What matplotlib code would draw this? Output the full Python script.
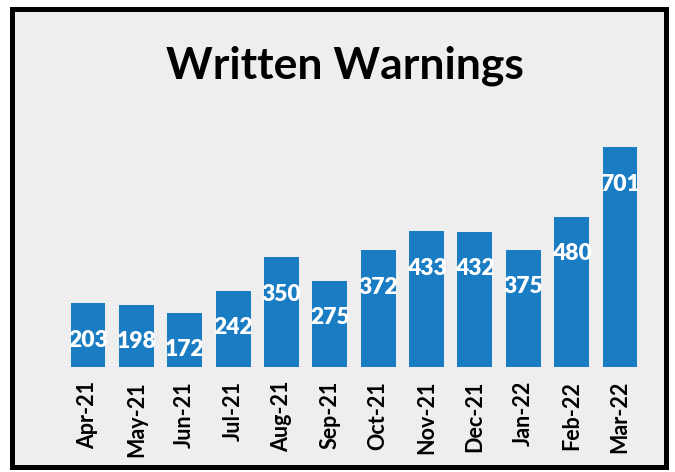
import matplotlib.pyplot as plt
from matplotlib.patches import Rectangle

months = ["Apr-21", "May-21", "Jun-21", "Jul-21", "Aug-21", "Sep-21",
          "Oct-21", "Nov-21", "Dec-21", "Jan-22", "Feb-22", "Mar-22"]
warnings = [203, 198, 172, 242, 350, 275, 372, 433, 432, 375, 480, 701]

plt.rcParams["font.family"] = ["Lato", "DejaVu Sans"]

fig = plt.figure(figsize=(6.75, 4.72), dpi=100)
fig.patch.set_facecolor("white")

# panel with thick black frame
fig.add_artist(Rectangle((12 / 675, 1 - 467 / 472), 654 / 675, 458 / 472,
                         transform=fig.transFigure, facecolor="#eeeeee",
                         edgecolor="black", linewidth=3.6, zorder=-5))

ax = fig.add_axes([59 / 675, 105 / 472, 590 / 675, 235 / 472])
ax.set_facecolor("none")
ax.set_zorder(2)

x = range(len(months))
bars = ax.bar(x, warnings, width=0.72, color="#1a7cc2", zorder=2)
ax.bar_label(bars, labels=[str(v) for v in warnings], padding=-34,
             color="white", fontsize=16.5, fontweight="heavy", zorder=3)

ax.set_xlim(-0.6, 11.6)
ax.set_ylim(0, 750)
ax.set_xticks(list(x))
ax.set_xticklabels(months, rotation=90, fontsize=15.5, fontweight="bold")
ax.tick_params(axis="x", length=0, pad=10)
ax.set_yticks([])
for s in ax.spines.values():
    s.set_visible(False)

fig.text(345 / 675, 1 - 66 / 472, "Written Warnings", ha="center", va="center",
         fontsize=32, fontweight="bold", zorder=3)

fig.savefig("out.png", dpi=100)
